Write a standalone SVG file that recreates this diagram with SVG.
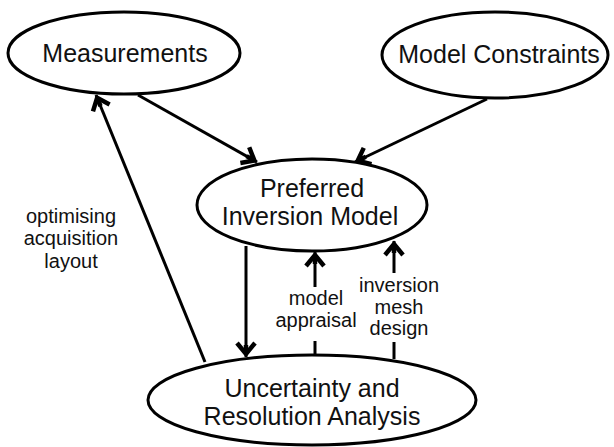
<svg xmlns="http://www.w3.org/2000/svg" width="614" height="447" viewBox="0 0 614 447">
<style>
.node{fill:#fff;stroke:#000;stroke-width:3}
.t{font-family:"Liberation Sans",Arial,sans-serif;font-size:25px;fill:#111;text-anchor:middle}
.l{font-family:"Liberation Sans",Arial,sans-serif;font-size:20px;fill:#111;text-anchor:middle}
.c{fill:none;stroke:#000;stroke-width:3}
</style>
<defs>
<marker id="arr" markerUnits="userSpaceOnUse" viewBox="-18 -12 20 24" refX="0" refY="0" markerWidth="20" markerHeight="24" orient="auto">
<path d="M-14,-9 L-3,0 L-14,9" fill="none" stroke="#000" stroke-width="4.5" stroke-linejoin="miter" stroke-linecap="butt"/>
<path d="M-12,0 L-3,0" stroke="#000" stroke-width="4.5"/>
</marker>
</defs>
<rect width="614" height="447" fill="#fff"/>
<g id="connectors">
<line class="c" x1="138" y1="95" x2="257" y2="162" marker-end="url(#arr)"/>
<line class="c" x1="487" y1="99" x2="355" y2="162" marker-end="url(#arr)"/>
<line class="c" x1="205" y1="362" x2="96" y2="95" marker-end="url(#arr)"/>
<line class="c" x1="246" y1="246" x2="246" y2="357" marker-end="url(#arr)"/>
<line class="c" x1="315" y1="287" x2="315" y2="252" marker-end="url(#arr)"/>
<line class="c" x1="315" y1="341" x2="315" y2="355"/>
<line class="c" x1="394" y1="273" x2="394" y2="241" marker-end="url(#arr)"/>
<line class="c" x1="394" y1="342" x2="394" y2="359"/>
<text class="l" x="71" y="223">optimising</text>
<text class="l" x="71" y="245">acquisition</text>
<text class="l" x="71" y="268">layout</text>
<text class="l" x="316" y="305">model</text>
<text class="l" x="316" y="327">appraisal</text>
<text class="l" x="399" y="292">inversion</text>
<text class="l" x="399" y="314">mesh</text>
<text class="l" x="399" y="335">design</text>
</g>
<g id="measurements">
<ellipse class="node" cx="124" cy="53" rx="116" ry="41"/>
<text class="t" x="125" y="62">Measurements</text>
</g>
<g id="model-constraints">
<ellipse class="node" cx="495" cy="55" rx="113" ry="43"/>
<text class="t" x="499" y="63">Model Constraints</text>
</g>
<g id="preferred-inversion-model">
<ellipse class="node" cx="312" cy="205" rx="115" ry="46"/>
<text class="t" x="312" y="197">Preferred</text>
<text class="t" x="310" y="225">Inversion Model</text>
</g>
<g id="uncertainty-resolution">
<ellipse class="node" cx="312" cy="400" rx="164" ry="45"/>
<text class="t" x="312" y="397">Uncertainty and</text>
<text class="t" x="312" y="425">Resolution Analysis</text>
</g>
</svg>
